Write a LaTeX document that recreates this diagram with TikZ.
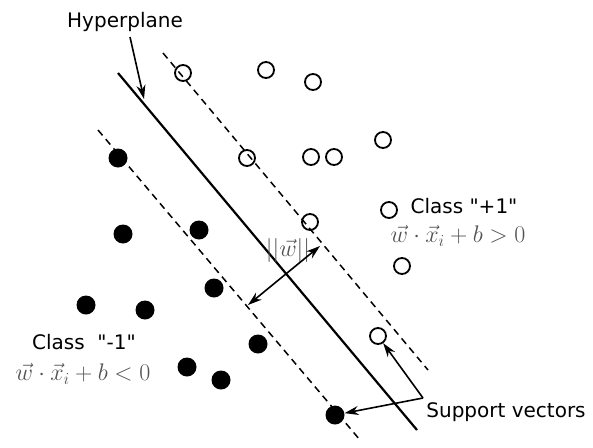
\RequirePackage{fix-cm}
\documentclass[tikz,border=0pt]{standalone}
\usepackage{fontspec}
\newfontfamily\lblfont{DejaVu Sans}
\usetikzlibrary{arrows.meta}
\begin{document}
\begin{tikzpicture}[x=1pt,y=-1pt,
  opendot/.style={circle,draw,line width=1.8pt,minimum size=16pt,inner sep=0pt},
  filldot/.style={circle,fill,minimum size=19pt,inner sep=0pt},
  lbl/.style={font=\lblfont\fontsize{20}{22}\selectfont,inner sep=0pt},
  mth/.style={font=\fontsize{24}{26}\selectfont,text=black!68,inner sep=0pt},
  arr/.style={line width=1.6pt,-{Stealth[length=14pt,width=9pt]}},
  dasharr/.style={line width=1.6pt,{Stealth[length=14pt,width=9pt]}-{Stealth[length=14pt,width=9pt]}},
  margin/.style={line width=1.5pt,dash pattern=on 7pt off 5pt},
  plane/.style={line width=2.2pt}]
\useasboundingbox (0,0) rectangle (593,447);
% lines
\coordinate (s1) at (118,73);  \coordinate (s2) at (417,430);
\coordinate (u1) at (163,53);  \coordinate (u2) at (428,370);
\coordinate (l1) at (98,130);  \coordinate (l2) at (360,440);
\draw[plane] (s1) -- (s2);
\draw[margin] (u1) -- (u2);
\draw[margin] (l1) -- (l2);
% open dots (class +1)
\node[opendot] (o1) at (183,73) {};
\node[opendot] (o2) at (266,70) {};
\node[opendot] (o3) at (313,82) {};
\node[opendot] (o4) at (383,140) {};
\node[opendot] (o5) at (247,158) {};
\node[opendot] (o6) at (311,157) {};
\node[opendot] (o7) at (334,157) {};
\node[opendot] (o8) at (310,222) {};
\node[opendot] (o9) at (389,210) {};
\node[opendot] (o10) at (402,266) {};
\node[opendot] (o11) at (378,336) {};
% filled dots (class -1)
\node[filldot] (f1) at (118,158) {};
\node[filldot] (f2) at (123,234) {};
\node[filldot] (f3) at (199,230) {};
\node[filldot] (f4) at (214,288) {};
\node[filldot] (f5) at (86,305) {};
\node[filldot] (f6) at (145,310) {};
\node[filldot] (f7) at (258,344) {};
\node[filldot] (f8) at (187,367) {};
\node[filldot] (f9) at (221,380) {};
\node[filldot] (f10) at (335,415) {};
% labels
\node[lbl] (hyp) at (125,22) {Hyperplane};
\node[lbl] (cp) at (464,206) {Class "+1"};
\node[mth] (mp) at (458,236) {$\vec{w}\cdot\vec{x}_i+b>0$};
\node[lbl] (cm) at (84,342) {Class\ \ "-1"};
\node[mth] (mm) at (83,374) {$\vec{w}\cdot\vec{x}_i+b<0$};
\node[mth] (nw) at (288,250) {$||\vec{w}||$};
\node[lbl] (sv) at (506,412) {Support vectors};
% arrows
\coordinate (hs) at (130,37);
\coordinate (hp) at (144,99);
\draw[arr] (hs) -- (hp);
\coordinate (wa) at (248,305);
\coordinate (wb) at (320,246);
\draw[dasharr] (wa) -- (wb);
\coordinate (svs) at (423,398);
\draw[arr] (svs) -- (o11);
\draw[arr] (svs) -- (f10);
\end{tikzpicture}
\end{document}
